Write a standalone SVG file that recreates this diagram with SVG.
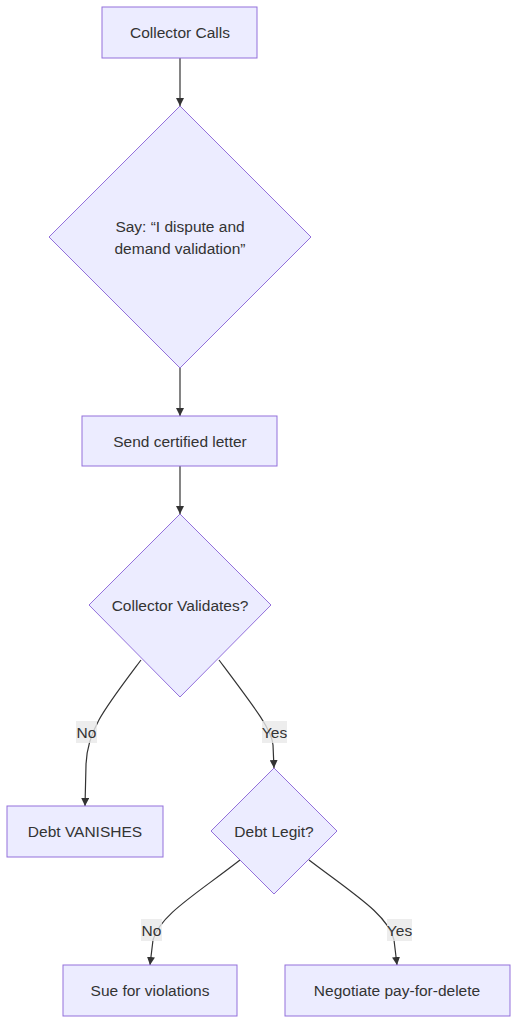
<svg xmlns="http://www.w3.org/2000/svg" width="518" height="1024" viewBox="0 0 518 1024">
<style>
.node rect,.node polygon{fill:#ECECFF;stroke:#9370DB;stroke-width:1}
.node text{font-family:"Liberation Sans",Arial,sans-serif;font-size:15.5px;fill:#333;text-anchor:middle;dominant-baseline:central}
.edge{fill:none;stroke:#333;stroke-width:1.2}
.lbl rect{fill:#e8e8e8;opacity:0.8}
.lbl text{font-family:"Liberation Sans",Arial,sans-serif;font-size:15.5px;fill:#333;text-anchor:middle;dominant-baseline:central}
</style>
<defs>
<marker id="arr" viewBox="0 0 10 10" refX="10" refY="5" markerWidth="8" markerHeight="8" markerUnits="userSpaceOnUse" orient="auto">
<path d="M0,0 L10,5 L0,10 z" fill="#333"/>
</marker>
</defs>
<rect width="518" height="1024" fill="#fff"/>
<g id="edges">
<path class="edge" d="M180,58 L180,106" marker-end="url(#arr)"/>
<path class="edge" d="M180,368 L180,416" marker-end="url(#arr)"/>
<path class="edge" d="M180,466 L180,514" marker-end="url(#arr)"/>
<path class="edge" d="M141,660 C105,708 87,730 86,765 L85,806" marker-end="url(#arr)"/>
<path class="edge" d="M219,660 C255,708 272,730 273,745 L274,768" marker-end="url(#arr)"/>
<path class="edge" d="M240,860 C195,895 160,915 153,940 L150,965" marker-end="url(#arr)"/>
<path class="edge" d="M309,860 C355,895 388,915 394,940 L397,965" marker-end="url(#arr)"/>
</g>
<g id="labels">
<g class="lbl"><rect x="76" y="721" width="21" height="22"/><text x="86.5" y="732">No</text></g>
<g class="lbl"><rect x="262" y="721" width="25" height="22"/><text x="274.5" y="732">Yes</text></g>
<g class="lbl"><rect x="141" y="919" width="21" height="22"/><text x="151.5" y="930">No</text></g>
<g class="lbl"><rect x="387" y="919" width="25" height="22"/><text x="399.5" y="930">Yes</text></g>
</g>
<g id="A" class="node"><rect x="102" y="7" width="155" height="51"/><text x="180" y="32.5">Collector Calls</text></g>
<g id="B" class="node"><polygon points="180,106 311,237 180,368 49,237"/><text x="180" y="226">Say: “I dispute and</text><text x="180" y="248">demand validation”</text></g>
<g id="C" class="node"><rect x="82" y="416" width="195" height="50"/><text x="180" y="441">Send certified letter</text></g>
<g id="D" class="node"><polygon points="180,514 271,605 180,697 89,605"/><text x="180" y="605">Collector Validates?</text></g>
<g id="E" class="node"><rect x="7" y="806" width="156" height="51"/><text x="85" y="831.5">Debt VANISHES</text></g>
<g id="F" class="node"><polygon points="274,768 337,831 274,894 211,831"/><text x="274" y="831">Debt Legit?</text></g>
<g id="G" class="node"><rect x="63" y="965" width="174" height="51"/><text x="150" y="990.5">Sue for violations</text></g>
<g id="H" class="node"><rect x="285" y="965" width="225" height="51"/><text x="397" y="990.5">Negotiate pay-for-delete</text></g>
</svg>
